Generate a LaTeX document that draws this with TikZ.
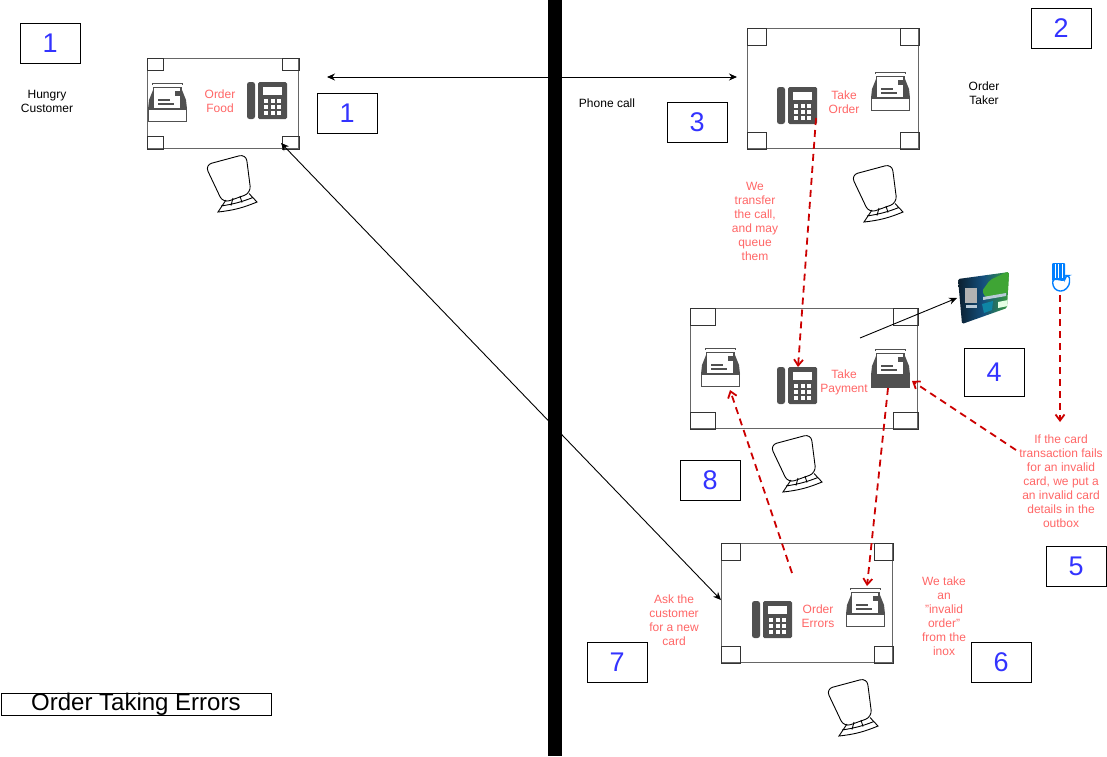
\documentclass[tikz,border=0pt]{standalone}
\usepackage{fontspec}
\setmainfont{Liberation Sans}
\usetikzlibrary{positioning,calc,arrows.meta}
\definecolor{iconC}{HTML}{505050}
\definecolor{noteC}{HTML}{FF6666}
\definecolor{dashC}{HTML}{CC0000}
\definecolor{numC}{HTML}{3333FF}
\definecolor{handC}{HTML}{007FFF}
\definecolor{cardL}{HTML}{0B1A26}
\definecolor{cardM}{HTML}{14507F}
\definecolor{cardR}{HTML}{3FA535}

\newcommand{\deskN}[5]{% name, left, top, width, height
  \node[deskNode,minimum width=#4pt,minimum height=#5pt,anchor=north west] (#1) at (#2,#3) {};
  \foreach \sx/\sy/\ca in {1/1/north west,-1/1/north east,1/-1/south west,-1/-1/south east}
    \draw[deskLeg] (#1.\ca) rectangle +(\sx*#4/9,\sy*#5/7);
}

\begin{document}
\begin{tikzpicture}
  [x=1pt,y=-1pt,
   deskNode/.style={draw=black!60,line width=1.4pt,inner sep=0pt},
   deskLeg/.style={draw=black!80,line width=1pt},
   numN/.style={draw,line width=.8pt,minimum width=59.5pt,minimum height=39.5pt,inner sep=0pt,
     font=\fontsize{27}{27}\selectfont,text=numC},
   noteN/.style={align=center,font=\fontsize{12}{14}\selectfont,text=noteC,inner sep=0pt},
   blackN/.style={align=center,font=\fontsize{12}{14}\selectfont,inner sep=0pt},
   callE/.style={{Stealth[length=8pt,width=7pt]}-{Stealth[length=8pt,width=7pt]},line width=.9pt},
   oneE/.style={-{Stealth[length=8pt,width=7pt]},line width=.9pt},
   redE/.style={-{Straight Barb[length=6pt,width=9pt]},draw=dashC,line width=1.8pt,dash pattern=on 7pt off 5pt},
   phone/.pic={
     \fill[iconC,rounded corners=2.5pt] (0,0) rectangle (8,37);
     \fill[iconC,rounded corners=1.5pt] (11,0) rectangle (40,37);
     \fill[white] (16,5) rectangle (35,12.5);
     \foreach \kx in {17,23.5,30}
       \foreach \ky in {17,23,29}
         \fill[white] (\kx,\ky) rectangle +(4,3.5);
   },
   pics/inbox/.style={code={
     \draw[iconC,line width=.8pt] (4,3) -- (4,1) -- (34,1) -- (34,3);
     \fill[iconC] (1,18) -- (5,8) -- (34,8) -- (38,18) -- (39,27) -- (0,27) -- cycle;
     \fill[white] (6,6) rectangle (33,27);
     \draw[iconC,line width=1.3pt] (5.5,5.5) rectangle (33,27);
     \fill[iconC] (27,9) rectangle (32,14);
     \draw[iconC,line width=1.1pt] (10,18) -- (22,18) (10,22) -- (26,22);
     \draw[iconC,line width=1.4pt,fill=#1] (.7,27) rectangle (38.7,39.3);
   }},
   chair/.pic={
     \draw[line width=.9pt,fill=white,rounded corners=7pt] (-2,9) -- (39,-2) -- (44,37) -- (16,47) -- cycle;
     \draw[line width=.9pt] (19,44) -- (11,56) to[bend right=8] (50,46) -- (42,37.5)
       (14,50) to[bend right=6] (46,41.5)
       (26,42) -- (24,49.5) (33,40) -- (35,46.5);
   },
  ]

 % the wall
 \useasboundingbox (0,0) rectangle (1107,756);
 \fill[black] (548,0) rectangle (562,756);

 % desks
 \deskN{deskFood}{147}{58}{151}{90}
 \deskN{deskTake}{747}{28}{171}{120}
 \deskN{deskPay}{690}{308}{227}{120}
 \deskN{deskErr}{721}{543}{171}{119}

 % icons
 \pic at (148,82) {inbox=white};
 \pic at (247,82) {phone};
 \pic at (777,87) {phone};
 \pic at (871,71) {inbox=white};
 \pic at (701,347) {inbox=white};
 \pic at (777,367) {phone};
 \pic at (871,348) {inbox=iconC};
 \pic at (752,601) {phone};
 \pic at (846,587) {inbox=white};

 % chairs
 \pic at (207,156) {chair};
 \pic at (853,166) {chair};
 \pic at (772,436) {chair};
 \pic at (828,680) {chair};

 % card
 \begin{scope}
  \clip[rounded corners=1.5pt] (958,279) -- (1009,272) -- (1007,308) -- (962,324) -- cycle;
  \shade[left color=cardL,right color=cardR,middle color=cardM] (955,270) rectangle (1012,326);
  \fill[cardR,rounded corners=2pt] (982,291) -- (990,280) -- (1009,271) -- (1009,292) -- (996,295) -- (986,298) -- cycle;
  \fill[black!30] (965,288) rectangle (977,303);
  \fill[white!70!cardM] (966,305) rectangle (977,308);
  \fill[white!70!cardM] (983,297) -- (1006,293) -- (1006,296) -- (983,300) -- cycle;
  \fill[cardM!70!cyan] (982,304) -- (993,301) -- (992,310) -- (984,313) -- cycle;
  \fill[white!90!green] (998,302) -- (1008,300) -- (1008,306) -- (998,308) -- cycle;
 \end{scope}

 % hand
 \fill[handC,rounded corners=1pt] (1052,263) rectangle (1065,281);
 \foreach \hx in {1055.3,1058.6,1061.9}
   \draw[white,line width=.5pt] (\hx,264) -- (\hx,278);
 \draw[handC,line width=1.4pt,fill=white,rounded corners=3pt] (1052.7,279) -- (1052.7,286) -- (1057,291) -- (1064,291) -- (1069.5,285) -- (1069.5,275.5) -- (1065.5,275.5) -- (1065,281) -- (1059,279.5) -- cycle;

 % numbers
 \node[numN,anchor=north west] (numA) at (20,23) {1};
 \node[numN,anchor=north west] (numB) at (317,93) {1};
 \node[numN,anchor=north west] (numC) at (1031,8) {2};
 \node[numN,anchor=north west] (numD) at (667,102) {3};
 \node[numN,anchor=north west,minimum height=48pt] (numE) at (964,348) {4};
 \node[numN,anchor=north west] (numF) at (1046,546) {5};
 \node[numN,anchor=north west] (numG) at (971,642) {6};
 \node[numN,anchor=north west] (numH) at (587,642) {7};
 \node[numN,anchor=north west] (numI) at (680,460) {8};

 % texts
 \node[blackN] (txtHungry) at (47,101) {Hungry\\Customer};
 \node[blackN] (txtPhone) at (607,103) {Phone call};
 \node[blackN] (txtTaker) at (984,93) {Order\\Taker};
 \node[noteN] (txtFood) at (220,101) {Order\\Food};
 \node[noteN] (txtTake) at (844,102) {Take\\Order};
 \node[noteN] (txtPay) at (844,382) {Take\\Payment};
 \node[noteN] (txtErr) at (818,616) {Order\\Errors};
 \node[noteN] (txtQueue) at (755,221) {We\\transfer\\the call,\\and may\\queue\\them};
 \node[noteN] (txtFail) at (1061,481) {If the card\\transaction fails\\for an invalid\\card, we put a\\an invalid card\\details in the\\outbox};
 \node[noteN] (txtInox) at (944,616) {We take\\an\\"invalid\\order"\\from the\\inox};
 \node[noteN] (txtAsk) at (674,620) {Ask the\\customer\\for a new\\card};
 \node[draw,line width=.8pt,minimum width=270pt,minimum height=20pt,inner sep=0pt,
   font=\fontsize{24}{24}\selectfont,anchor=north west] (title) at (.5,692.5) {Order Taking Errors};

 % connectors
 \coordinate (callL) at (327,77);
 \coordinate (callR) at (737,77);
 \coordinate (backL) at (281,143);
 \coordinate (backR) at (721,600);
 \coordinate (cardS) at (860,338);
 \coordinate (cardE) at (957,298);
 \coordinate (qS) at (816,118);
 \coordinate (qE) at (798,367);
 \coordinate (handS) at (1060,295);
 \coordinate (handE) at (1060,422);
 \coordinate (failS) at (1016,450);
 \coordinate (failE) at (912,381);
 \coordinate (payS) at (888,388);
 \coordinate (payE) at (867,586);
 \coordinate (errS) at (792,573);
 \coordinate (errE) at (730,390);
 \draw[callE] (callL) -- (callR);
 \draw[callE] (backL) -- (backR);
 \draw[oneE] (cardS) -- (cardE);
 \foreach \ea/\eb in {qS/qE,handS/handE,failS/failE,payS/payE,errS/errE}
   \draw[redE] (\ea) -- (\eb);
\end{tikzpicture}
\end{document}
